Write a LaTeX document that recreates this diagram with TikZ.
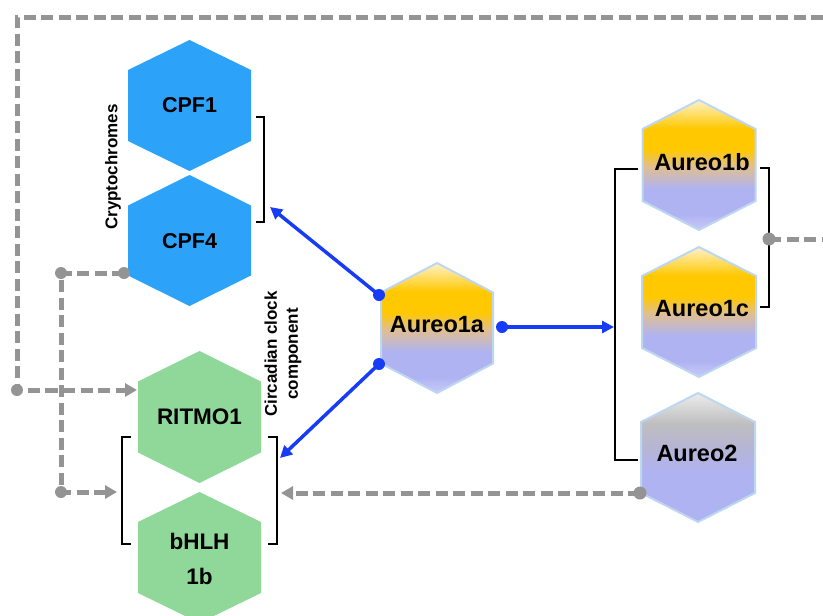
\documentclass[tikz,border=0pt]{standalone}
\usepackage{fontspec}
\setmainfont{Liberation Sans}
\usetikzlibrary{arrows.meta}
\definecolor{cpfblue}{RGB}{44,163,248}
\definecolor{ritgreen}{RGB}{143,216,154}
\definecolor{dgray}{RGB}{148,148,148}
\definecolor{arrblue}{RGB}{22,60,245}
\definecolor{hexedge}{RGB}{190,215,240}
\definecolor{lavl}{RGB}{200,202,248}
\definecolor{lav}{RGB}{176,179,242}
\definecolor{tanc}{RGB}{222,190,150}
\definecolor{yel}{RGB}{255,200,0}
\definecolor{cream}{RGB}{255,242,200}
\definecolor{gryt}{RGB}{236,236,236}
\definecolor{grym}{RGB}{190,190,192}
\definecolor{grymix}{RGB}{182,182,210}
\pgfdeclareverticalshading{aureoshade}{100bp}{color(0bp)=(lavl); color(25bp)=(lavl); color(31bp)=(lav); color(41bp)=(lav); color(49bp)=(tanc); color(56bp)=(yel); color(64bp)=(yel); color(75bp)=(cream); color(100bp)=(cream)}
\pgfdeclareverticalshading{aureotwo}{100bp}{color(0bp)=(lav); color(25bp)=(lav); color(44bp)=(lav); color(55bp)=(grymix); color(63bp)=(grym); color(75bp)=(gryt); color(100bp)=(gryt)}
\newcommand{\hexshape}[6]{%
  \path[#1] (#2,#3-#5) -- (#2+#4,#3-#6) -- (#2+#4,#3+#6) -- (#2,#3+#5) -- (#2-#4,#3+#6) -- (#2-#4,#3-#6) -- cycle;}
\tikzset{
  lbl/.style={font=\bfseries\fontsize{22.5}{26}\selectfont, inner sep=0pt},
  aulbl/.style={font=\bfseries\fontsize{23.5}{27}\selectfont, inner sep=0pt},
  side/.style={font=\bfseries\fontsize{17}{21}\selectfont, inner sep=0pt, rotate=90, align=center},
  dgl/.style={draw=dgray, line width=5pt, dash pattern=on 12pt off 5.5pt},
  gtip/.style={-{Triangle[length=12pt,width=13pt]}},
  bline/.style={draw=arrblue, line width=3.5pt, -{Triangle[length=12pt,width=12pt]}},
  brk/.style={draw=black, line width=2.5pt},
  gdot/.style={fill=dgray},
  bdot/.style={fill=arrblue},
  aureo/.style={shading=aureoshade, draw=hexedge, line width=2pt},
  aureob/.style={shading=aureotwo, draw=hexedge, line width=2pt}
}
\begin{document}
\begin{tikzpicture}[x=1pt,y=-1pt]
\useasboundingbox (0,0) rectangle (823,616);
% hexagons
\hexshape{fill=cpfblue}{189.5}{105.5}{61.5}{65.5}{35.5}
\hexshape{fill=cpfblue}{189.5}{240.5}{61.5}{65.5}{35}
\hexshape{fill=ritgreen}{199.5}{417}{61.5}{66}{35.5}
\hexshape{fill=ritgreen}{199.5}{557.5}{61.5}{65.5}{35.5}
\hexshape{aureo}{437}{328}{56}{65}{35.5}
\hexshape{aureo}{699}{165}{56.5}{65}{36}
\hexshape{aureo}{699}{312}{57}{65}{36}
\hexshape{aureob}{698}{457.5}{57}{64.5}{35.5}
% labels
\node[lbl, font=\bfseries\fontsize{21.5}{25}\selectfont] (cpf1) at (189.5,105) {CPF1};
\node[lbl, font=\bfseries\fontsize{21.5}{25}\selectfont] (cpf4) at (189.5,241) {CPF4};
\node[lbl] (ritmo) at (199.5,417) {RITMO1};
\node[lbl, align=center, font=\bfseries\fontsize{22.5}{35}\selectfont] (bhlh) at (199.5,559) {bHLH\\1b};
\node[aulbl] (a1a) at (437,325) {Aureo1a};
\node[aulbl] (a1b) at (702,162) {Aureo1b};
\node[aulbl] (a1c) at (702,309) {Aureo1c};
\node[aulbl] (a2) at (697,453) {Aureo2};
\node[side] (crypto) at (113,167) {Cryptochromes};
\node[side] (circ) at (283,354) {Circadian clock\\component};
% brackets
\draw[brk] (256,117) -- (264,117) -- (264,222) -- (256,222);
\draw[brk] (131,437) -- (122,437) -- (122,544) -- (131,544);
\draw[brk] (268,437) -- (277,437) -- (277,544) -- (268,544);
\draw[brk] (638,169) -- (615,169) -- (615,460) -- (638,460);
\draw[brk] (760,168) -- (769,168) -- (769,307) -- (760,307);
% connector coordinates
\coordinate (loopR) at (823,17);
\coordinate (loopC) at (17,390);
\coordinate (ritmoW) at (137,390);
\coordinate (cpf4dot) at (124,273);
\coordinate (cpfturn) at (61,273);
\coordinate (bhturn) at (61,492);
\coordinate (brkL) at (117,492);
\coordinate (a2dot) at (640,493);
\coordinate (brkR) at (281,493);
\coordinate (abdot) at (769,239);
\coordinate (abR) at (823,239);
\coordinate (a1aUL) at (379,295);
\coordinate (a1aLL) at (379,364);
\coordinate (a1aR) at (502,327);
\coordinate (cpfbrk) at (270,207);
\coordinate (ritbrk) at (280,458);
\coordinate (aubrk) at (614,327);
% gray dashed connectors
\draw[dgl, gtip] (loopR) -| (loopC) -- (ritmoW);
\draw[dgl, gtip] (cpf4dot) -| (bhturn) -- (brkL);
\draw[dgl, gtip] (a2dot) -- (brkR);
\draw[dgl] (abdot) -- (abR);
\fill[gdot] (loopC) circle (6);
\fill[gdot] (cpf4dot) circle (6);
\fill[gdot] (cpfturn) circle (6);
\fill[gdot] (bhturn) circle (6);
\fill[gdot] (a2dot) circle (6.5);
\fill[gdot] (abdot) circle (6.5);
% blue connectors
\draw[bline] (a1aUL) -- (cpfbrk);
\draw[bline] (a1aLL) -- (ritbrk);
\draw[bline] (a1aR) -- (aubrk);
\fill[bdot] (a1aUL) circle (6);
\fill[bdot] (a1aLL) circle (6);
\fill[bdot] (a1aR) circle (6);
\end{tikzpicture}
\end{document}
